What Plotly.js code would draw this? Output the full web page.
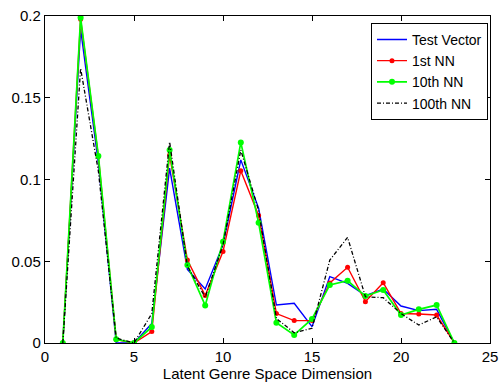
<!DOCTYPE html>
<html>
<head>
<meta charset="utf-8">
<script src="https://cdn.plot.ly/plotly-3.0.1.min.js"></script>
<style>html,body{margin:0;padding:0;background:#fff;}#chart{width:499px;height:383px;}</style>
</head>
<body>
<div id="chart"></div>
<script>
const dims = [1,2,3,4,5,6,7,8,9,10,11,12,13,14,15,16,17,18,19,20,21,22,23];
const testVector = [0,0.192,0.110,0,0,0.012,0.107,0.045,0.033,0.060,0.112,0.0825,0.0232,0.0243,0.010,0.0406,0.0365,0.029,0.033,0.0226,0.0198,0.0206,0];
const nn1 = [0,0.198,0.114,0.002,0,0.007,0.115,0.0508,0.029,0.056,0.1054,0.078,0.018,0.0137,0.0137,0.0367,0.0463,0.0253,0.0369,0.018,0.0177,0.0171,0];
const nn10 = [0,0.199,0.1144,0.0023,0,0.0098,0.118,0.0477,0.023,0.062,0.1227,0.0736,0.0124,0.0049,0.0147,0.0355,0.0381,0.0287,0.0324,0.0171,0.0206,0.0232,0];
const nn100 = [0,0.168,0.105,0.003,0,0.018,0.123,0.047,0.028,0.060,0.118,0.081,0.015,0.0063,0.009,0.0507,0.0646,0.0283,0.0277,0.018,0.011,0.016,0];
const seriesNames = ['Test Vector','1st NN','10th NN','100th NN'];
const xTicks = [0,5,10,15,20,25];
const yTicks = [0,0.05,0.1,0.15,0.2];
const yTickText = ['0','0.05','0.1','0.15','0.2'];

const font = {family: 'Liberation Sans, Arial, sans-serif', size: 15, color: '#000'};
const traces = [
  {x: dims, y: testVector, name: seriesNames[0], mode: 'lines', line: {color: '#0000ff', width: 1.4}},
  {x: dims, y: nn1, name: seriesNames[1], mode: 'lines+markers', line: {color: '#ff0000', width: 1.4}, marker: {color: '#ff0000', size: 5}},
  {x: dims, y: nn10, name: seriesNames[2], mode: 'lines+markers', line: {color: '#00ff00', width: 1.7}, marker: {color: '#00ff00', size: 6}},
  {x: dims, y: nn100, name: seriesNames[3], mode: 'lines', line: {color: '#000000', width: 1.3, dash: '4px,2px,1px,2px'}}
];
const axisCommon = {
  showgrid: false, zeroline: false, showline: true, linecolor: '#000', linewidth: 1.2,
  mirror: 'ticks', ticks: 'inside', ticklen: 5, tickcolor: '#000', tickwidth: 1,
  tickfont: font
};
const layout = {
  width: 499, height: 383,
  margin: {l: 45, r: 9, t: 16, b: 40},
  paper_bgcolor: '#fff', plot_bgcolor: '#fff',
  font: font,
  xaxis: Object.assign({}, axisCommon, {range: [0,25], tickvals: xTicks, ticktext: xTicks.map(String),
    title: {text: 'Latent Genre Space Dimension', font: font, standoff: 4}}),
  yaxis: Object.assign({}, axisCommon, {range: [0,0.2], tickvals: yTicks, ticktext: yTickText}),
  showlegend: true,
  legend: {x: 0.9955, xanchor: 'right', y: 0.979, yanchor: 'top', bgcolor: '#fff',
    bordercolor: '#000', borderwidth: 1, font: {family: font.family, size: 14, color: '#000'},
    tracegroupgap: 0, itemwidth: 30}
};
Plotly.newPlot('chart', traces, layout, {displayModeBar: false, staticPlot: true});
</script>
</body>
</html>
